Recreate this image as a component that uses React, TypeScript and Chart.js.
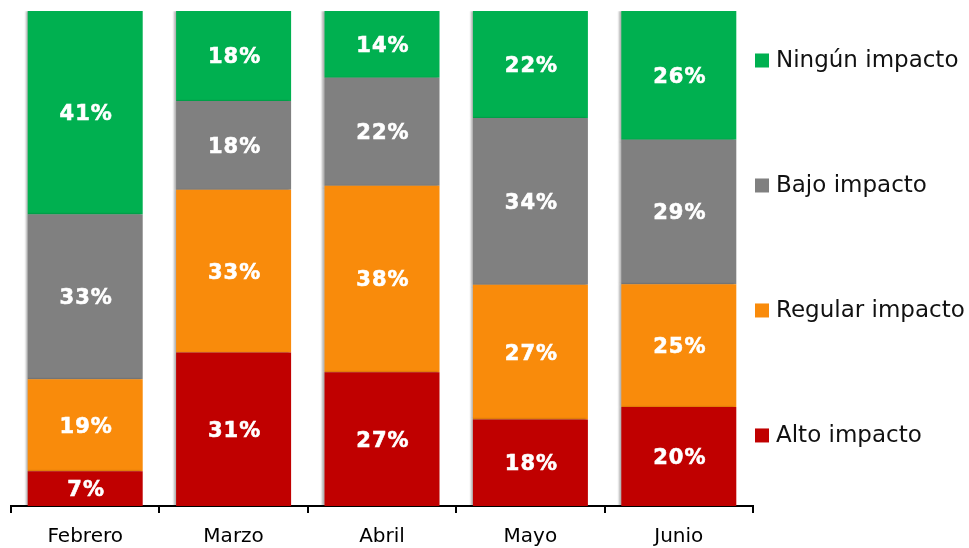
import { useEffect, useRef } from "react";
import { Chart, registerables } from "chart.js";

Chart.register(...registerables);

const categories = ["Febrero", "Marzo", "Abril", "Mayo", "Junio"];
const seriesNames = ["Alto impacto", "Regular impacto", "Bajo impacto", "Ningún impacto"];
const alto = [7.0, 31.0, 27.0, 17.5, 20.0];
const regular = [18.6, 32.9, 37.7, 27.2, 24.8];
const bajo = [33.3, 17.9, 21.8, 33.7, 29.2];
const ningun = [41.1, 18.2, 13.5, 21.6, 26.0];
const seriesColors = ["#C00000", "#F98B0B", "#808080", "#00B050"];

const FONT = '"DejaVu Sans", Verdana, sans-serif';

const shadowPlugin = {
  id: "barShadow",
  beforeDatasetDraw(chart: any) {
    const ctx = chart.ctx;
    ctx.save();
    ctx.shadowColor = "rgba(0,0,0,0.3)";
    ctx.shadowOffsetX = -2;
    ctx.shadowOffsetY = 0;
    ctx.shadowBlur = 2;
  },
  afterDatasetDraw(chart: any) {
    chart.ctx.restore();
  },
};

const labelPlugin = {
  id: "segmentLabels",
  afterDatasetsDraw(chart: any) {
    const ctx = chart.ctx;
    ctx.save();
    ctx.font = `bold 21px ${FONT}`;
    ctx.fillStyle = "#ffffff";
    ctx.strokeStyle = "#ffffff";
    ctx.lineWidth = 0.6;
    ctx.textAlign = "center";
    ctx.textBaseline = "middle";
    (ctx as any).letterSpacing = "1px";
    chart.data.datasets.forEach((ds: any, di: number) => {
      const meta = chart.getDatasetMeta(di);
      meta.data.forEach((el: any, i: number) => {
        const { x, y, base } = el.getProps(["x", "y", "base"], true);
        const v = ds.data[i];
        const t = Math.round(v) + "%";
        const ty = (y + base) / 2 + 2;
        ctx.fillText(t, x + 1, ty);
        ctx.strokeText(t, x + 1, ty);
      });
    });
    ctx.restore();
  },
};

const legendPlugin = {
  id: "sideLegend",
  afterDraw(chart: any) {
    const { ctx, chartArea } = chart;
    const x = chartArea.right + 2;
    ctx.save();
    ctx.font = `23px ${FONT}`;
    ctx.textBaseline = "middle";
    ctx.textAlign = "left";
    const order = [3, 2, 1, 0];
    order.forEach((di, i) => {
      const ds = chart.data.datasets[di];
      const cy = chartArea.top + chartArea.height * (0.1 + i * 0.2525);
      ctx.fillStyle = ds.backgroundColor;
      ctx.fillRect(x, cy - 7, 14, 14);
      ctx.fillStyle = "#111111";
      ctx.fillText(ds.label, x + 21, cy + 1);
    });
    ctx.restore();
  },
};

export default function App() {
  const ref = useRef<HTMLCanvasElement>(null);
  useEffect(() => {
    const values = [alto, regular, bajo, ningun];
    const chart = new Chart(ref.current as HTMLCanvasElement, {
      type: "bar",
      data: {
        labels: categories,
        datasets: seriesNames.map((name, i) => ({
          label: name,
          data: values[i],
          backgroundColor: seriesColors[i],
          borderWidth: 0,
          barPercentage: 0.775,
          categoryPercentage: 1,
        })),
      },
      options: {
        animation: false,
        responsive: true,
        maintainAspectRatio: false,
        layout: { padding: { left: 11, top: 11, right: 216, bottom: 0 } },
        plugins: {
          legend: { display: false },
          tooltip: { enabled: false },
        },
        scales: {
          x: {
            stacked: true,
            grid: {
              offset: true,
              drawOnChartArea: false,
              drawTicks: true,
              tickLength: 7,
              color: "#000000",
              lineWidth: 2,
            },
            border: { display: true, color: "#000000", width: 2 },
            ticks: {
              color: "#000000",
              font: { family: FONT, size: 20 },
              padding: 12,
            },
            afterFit: (s: any) => {
              s.height = 42;
            },
          },
          y: {
            stacked: true,
            display: false,
            min: 0,
            max: 100,
          },
        },
      },
      plugins: [shadowPlugin, labelPlugin, legendPlugin],
    });
    return () => chart.destroy();
  }, []);
  return (
    <div style={{ position: "fixed", left: 0, top: 0, width: 969, height: 548 }}>
      <canvas ref={ref} />
    </div>
  );
}
